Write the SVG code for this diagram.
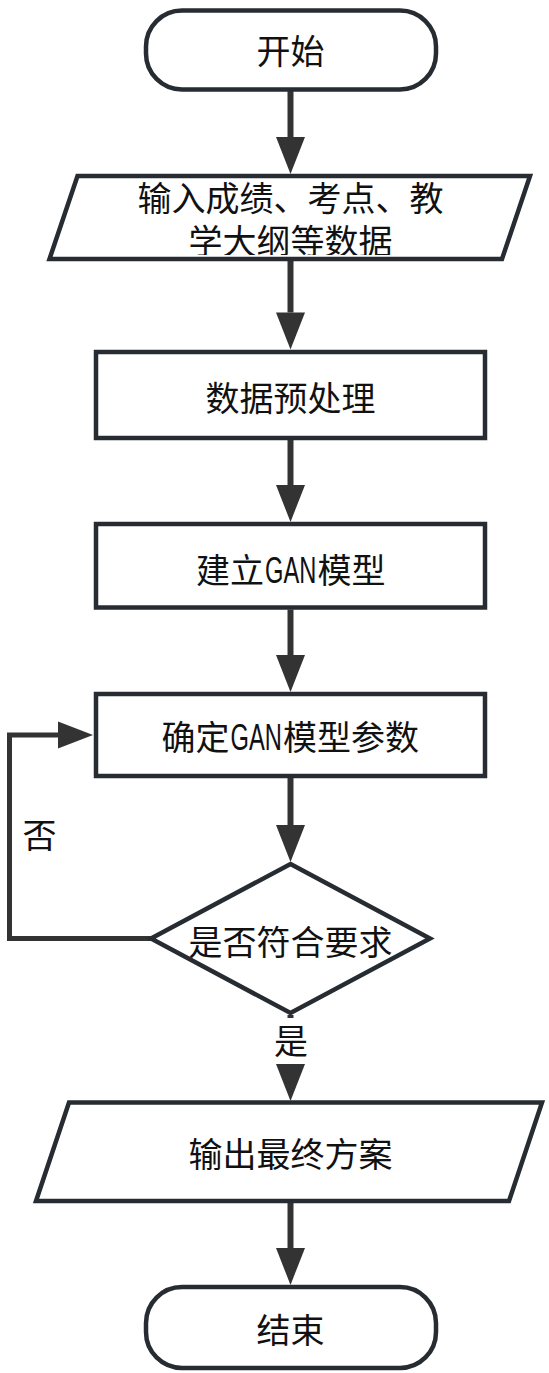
<svg xmlns="http://www.w3.org/2000/svg" width="549" height="1373" viewBox="0 0 549 1373">
<style>
.node{fill:#ffffff;stroke:#262c31;stroke-width:4.5;stroke-linejoin:miter}
.t{font-family:"Noto Sans CJK SC","Noto Sans",sans-serif;font-size:34px;fill:#111111;text-anchor:middle}
.s{text-anchor:start}
.lat{font-family:"Liberation Sans",Arial,sans-serif;font-size:37px;fill:#111111;text-anchor:start}
.conn{fill:none;stroke:#333333;stroke-width:6}
.loop{fill:none;stroke:#333333;stroke-width:5}
</style>
<defs>
<marker id="ah" markerUnits="userSpaceOnUse" markerWidth="38" markerHeight="30" refX="0" refY="14.5" orient="auto" overflow="visible">
<path d="M0,0 L37,14.5 L0,29 Z" fill="#333333"/>
</marker>
<marker id="ah2" markerUnits="userSpaceOnUse" markerWidth="36" markerHeight="28" refX="0" refY="13.5" orient="auto" overflow="visible">
<path d="M0,0 L35,13.5 L0,27 Z" fill="#333333"/>
</marker>
<clipPath id="pclip"><rect x="0" y="170" width="549" height="85"/></clipPath>
</defs>

<g id="connectors">
<line class="conn" x1="290.5" y1="90" x2="290.5" y2="137" marker-end="url(#ah)"/>
<line class="conn" x1="290.5" y1="261" x2="290.5" y2="312.5" marker-end="url(#ah)"/>
<line class="conn" x1="290.5" y1="440" x2="290.5" y2="485" marker-end="url(#ah)"/>
<line class="conn" x1="290.5" y1="609.5" x2="290.5" y2="655" marker-end="url(#ah)"/>
<line class="conn" x1="290.5" y1="778" x2="290.5" y2="825" marker-end="url(#ah)"/>
<line class="conn" x1="290.5" y1="1015" x2="290.5" y2="1064" marker-end="url(#ah)"/>
<line class="conn" x1="290.5" y1="1203" x2="290.5" y2="1248" marker-end="url(#ah)"/>
<path class="loop" d="M151,938.5 H9.5 V735 H58" marker-end="url(#ah2)"/>
<rect x="270" y="1018" width="42" height="46" fill="#ffffff"/>
<text class="t" x="291" y="1054">是</text>
<text class="t" x="39.5" y="848">否</text>
</g>

<g id="start">
<rect class="node" x="146" y="10.5" width="290" height="79" rx="36" ry="36"/>
<text class="t" x="290.5" y="64">开始</text>
</g>

<g id="input">
<polygon class="node" points="77.5,176 530,176 502,259 49.5,259"/>
<text class="t" clip-path="url(#pclip)"><tspan x="290.5" y="211">输入成绩、考点、教</tspan><tspan x="290.5" dy="43">学大纲等数据</tspan></text>
</g>

<g id="preprocess">
<rect class="node" x="96" y="352" width="389" height="86"/>
<text class="t" x="290.5" y="411">数据预处理</text>
</g>

<g id="build">
<rect class="node" x="96" y="524" width="389" height="83.5"/>
<text class="t s" x="196" y="583">建立</text>
<text class="lat" transform="translate(265,583) scale(0.64,1)">GAN</text>
<text class="t s" x="317.5" y="583">模型</text>
</g>

<g id="params">
<rect class="node" x="96" y="694" width="389" height="82"/>
<text class="t s" x="161.5" y="750">确定</text>
<text class="lat" transform="translate(230.5,750) scale(0.64,1)">GAN</text>
<text class="t s" x="283" y="750">模型参数</text>
</g>

<g id="decision">
<polygon class="node" points="290.5,864 430,938.5 290.5,1013 151,938.5"/>
<text class="t" x="290.5" y="955">是否符合要求</text>
</g>

<g id="output">
<polygon class="node" points="69,1102.5 542,1102.5 509,1201 36,1201"/>
<text class="t" x="290.5" y="1167">输出最终方案</text>
</g>

<g id="end">
<rect class="node" x="146" y="1287" width="290" height="81" rx="36" ry="36"/>
<text class="t" x="290.5" y="1343">结束</text>
</g>
</svg>
